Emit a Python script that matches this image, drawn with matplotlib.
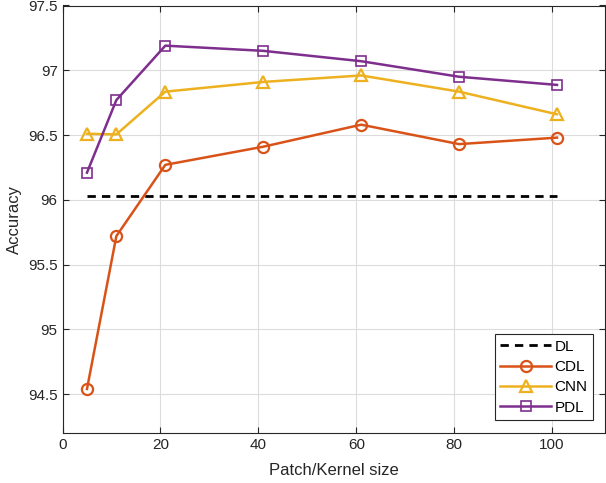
import matplotlib.pyplot as plt

plt.rcParams['font.family'] = ['Liberation Sans', 'DejaVu Sans']

# Data
patch_size = [5, 11, 21, 41, 61, 81, 101]
dl_x = [5, 101]
dl = [96.03, 96.03]
cdl = [94.54, 95.72, 96.27, 96.41, 96.58, 96.43, 96.48]
cnn = [96.51, 96.505, 96.835, 96.91, 96.96, 96.835, 96.66]
pdl = [96.21, 96.77, 97.19, 97.15, 97.07, 96.95, 96.887]

fig = plt.figure(figsize=(6.06, 4.83), dpi=100)
ax = fig.add_axes([62.5 / 606, 1 - 433 / 483, (605 - 62.5) / 606, (433 - 5.5) / 483])

ax.plot(dl_x, dl, '--', color='black', lw=2, dashes=(3, 2.2), label='DL')
ax.plot(patch_size, cdl, '-o', color='#D95319', lw=1.8, ms=8, mfc='none', mew=1.6, label='CDL')
ax.plot(patch_size, cnn, '-^', color='#EDB120', lw=1.8, ms=9, mfc='none', mew=1.6, label='CNN')
ax.plot(patch_size, pdl, '-s', color='#7E2F8E', lw=1.8, ms=7, mfc='none', mew=1.2, label='PDL')

ax.set_xlim(0, 110.8)
ax.set_ylim(94.2, 97.5)
ax.set_xticks([0, 20, 40, 60, 80, 100])
ax.set_yticks([94.5, 95, 95.5, 96, 96.5, 97, 97.5])
ax.set_yticklabels(['94.5', '95', '95.5', '96', '96.5', '97', '97.5'])
ax.grid(True, color='#dcdcdc', lw=0.8)
ax.set_axisbelow(True)
ax.tick_params(direction='in', top=True, right=True, labelsize=11, colors='#262626', length=4)
for s in ax.spines.values():
    s.set_color('#262626')
    s.set_linewidth(0.8)

ax.set_xlabel('Patch/Kernel size', fontsize=12, color='#262626', labelpad=8)
ax.set_ylabel('Accuracy', fontsize=12, color='#262626')

leg = ax.legend(loc='lower right', fontsize=11, fancybox=False, edgecolor='#262626',
                framealpha=1, handlelength=3.3, borderpad=0.35, labelspacing=0.42,
                handletextpad=0.25, borderaxespad=0, bbox_to_anchor=(0.978, 0.03))
leg.get_frame().set_linewidth(0.8)

fig.savefig('out.png', dpi=100)
